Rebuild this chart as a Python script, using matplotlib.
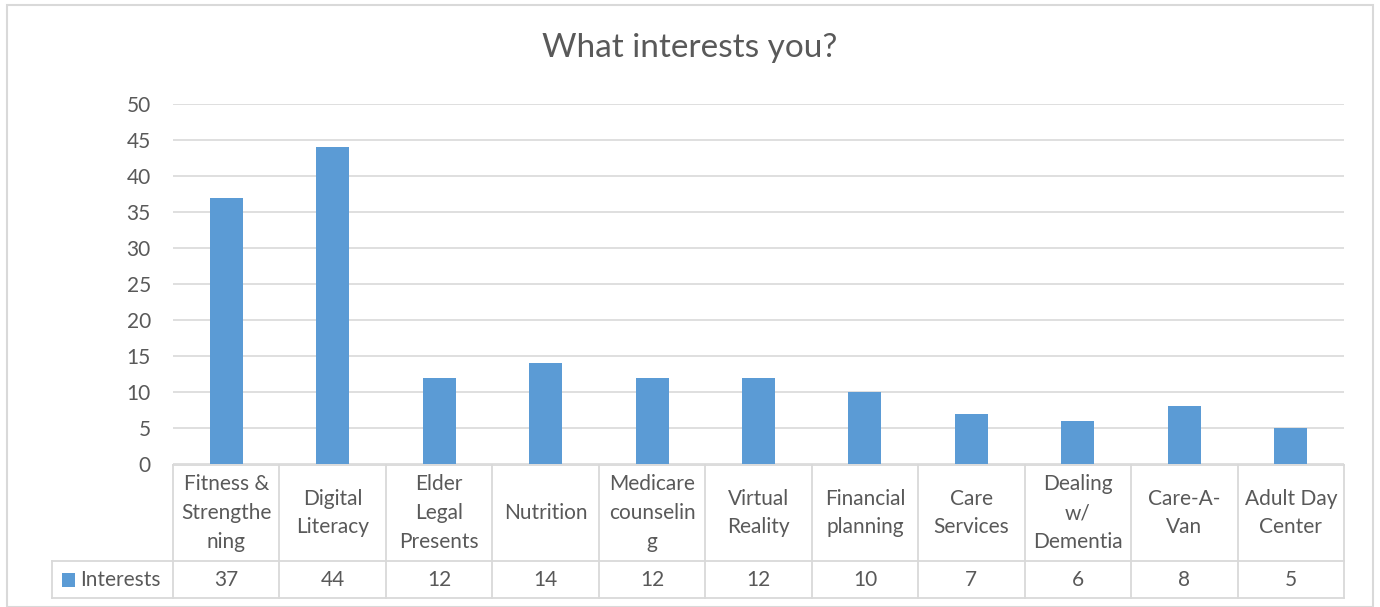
import matplotlib.pyplot as plt
from matplotlib.patches import Rectangle
from matplotlib.lines import Line2D
import matplotlib.transforms as mtransforms

categories = ['Fitness &\nStrengthe\nning', 'Digital\nLiteracy', 'Elder\nLegal\nPresents',
              'Nutrition', 'Medicare\ncounselin\ng', 'Virtual\nReality', 'Financial\nplanning',
              'Care\nServices', 'Dealing\nw/\nDementia', 'Care-A-\nVan', 'Adult Day\nCenter']
interests = [37, 44, 12, 14, 12, 12, 10, 7, 6, 8, 5]
series_name = 'Interests'
yticks = [0, 5, 10, 15, 20, 25, 30, 35, 40, 45, 50]

W, H = 1380, 607
bar_color = '#5b9bd5'
text_color = '#595959'
grid_color = '#d9d9d9'
fs = 15
plt.rcParams['font.family'] = ['Lato', 'DejaVu Sans']

fig = plt.figure(figsize=(W / 100, H / 100), dpi=100)

# plot area in pixels
x0, x1 = 173, 1344
ytop, ybot = 104, 464
ax = fig.add_axes([x0 / W, (H - ybot) / H, (x1 - x0) / W, (ybot - ytop) / H])

n = len(categories)
ax.bar(range(n), interests, width=0.31, color=bar_color, zorder=3)
ax.set_xlim(-0.5, n - 0.5)
ax.set_ylim(0, 50)
ax.set_yticks(yticks)
ax.set_xticks([])
ax.yaxis.grid(True, color=grid_color, linewidth=1.2, zorder=0)
for s in ax.spines.values():
    s.set_visible(False)
ax.tick_params(axis='y', length=0, pad=16, labelsize=fs, labelcolor=text_color)

fig.text(0.5, (H - 48) / H, 'What interests you?', ha='center', va='center',
         fontsize=24, color=text_color)

# outer chart border
fig.add_artist(Rectangle((7 / W, 0), (1373 - 7) / W, (H - 5) / H, transform=fig.transFigure,
                         fill=False, edgecolor='#d9d9d9', linewidth=1.5))

# data table
row1_top, row1_bot, row2_bot = 465, 561, 598
legend_left = 52
trans = mtransforms.blended_transform_factory(ax.transData, fig.transFigure)

def fy(p):
    return (H - p) / H

line_kw = dict(color=grid_color, linewidth=1.3, clip_on=False)
# horizontal lines
fig.add_artist(Line2D([x0 / W, x1 / W], [fy(row1_top)] * 2, transform=fig.transFigure, **line_kw))
fig.add_artist(Line2D([legend_left / W, x1 / W], [fy(row1_bot)] * 2, transform=fig.transFigure, **line_kw))
fig.add_artist(Line2D([legend_left / W, x1 / W], [fy(row2_bot)] * 2, transform=fig.transFigure, **line_kw))
# vertical lines
fig.add_artist(Line2D([legend_left / W] * 2, [fy(row1_bot), fy(row2_bot)], transform=fig.transFigure, **line_kw))
for i in range(n + 1):
    fig.add_artist(Line2D([i - 0.5] * 2, [fy(row1_top), fy(row2_bot)], transform=trans, **line_kw))

for i, (cat, v) in enumerate(zip(categories, interests)):
    ax.text(i, fy(513), cat, transform=trans, ha='center', va='center',
            fontsize=fs, color=text_color, linespacing=1.55)
    ax.text(i, fy(580), str(v), transform=trans, ha='center', va='center',
            fontsize=fs, color=text_color)

# legend key in table
fig.add_artist(Rectangle((62 / W, fy(587)), 13 / W, 14 / H, transform=fig.transFigure,
                         facecolor=bar_color, edgecolor='none'))
fig.text(80 / W, fy(580), series_name, ha='left', va='center',
         fontsize=fs, color=text_color)

fig.savefig('out.png', dpi=100)
